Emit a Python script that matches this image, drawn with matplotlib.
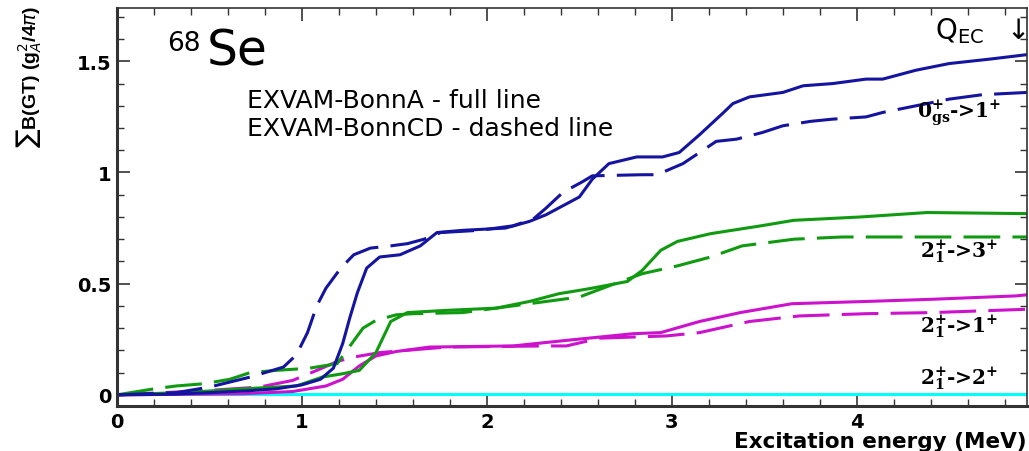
import matplotlib
matplotlib.use("Agg")
import matplotlib.pyplot as plt
from matplotlib.ticker import MultipleLocator, FixedLocator

plt.rcParams.update({
    "font.family": ["DejaVu Sans"],
    "mathtext.fontset": "dejavusans",
})

# cumulative B(GT), x in MeV
# 0gs -> 1+
x_a0 = [0, 0.3, 0.5, 0.7, 0.86, 1.0, 1.1, 1.17, 1.22, 1.26, 1.30, 1.35, 1.42, 1.53, 1.64, 1.73,
        1.87, 2.1, 2.23, 2.32, 2.41, 2.5, 2.57, 2.66, 2.81, 2.95, 3.04, 3.15, 3.28, 3.33, 3.42,
        3.6, 3.71, 3.87, 4.05, 4.14, 4.32, 4.5, 4.72, 4.92]
y_a0 = [0, 0.003, 0.01, 0.018, 0.027, 0.045, 0.07, 0.12, 0.23, 0.35, 0.46, 0.57, 0.62, 0.63, 0.67, 0.73,
        0.74, 0.75, 0.78, 0.81, 0.85, 0.89, 0.97, 1.04, 1.07, 1.07, 1.09, 1.17, 1.27, 1.31, 1.34,
        1.36, 1.39, 1.40, 1.42, 1.42, 1.46, 1.49, 1.51, 1.53]
x_cd0 = [0, 0.32, 0.5, 0.72, 0.9, 0.97, 1.03, 1.08, 1.13, 1.21, 1.28, 1.37, 1.48, 1.57, 1.66, 1.75,
         1.96, 2.14, 2.25, 2.32, 2.41, 2.52, 2.57, 2.84, 2.92, 3.06, 3.15, 3.24, 3.35, 3.49, 3.6,
         3.75, 3.87, 4.05, 4.14, 4.32, 4.5, 4.68, 4.92]
y_cd0 = [0, 0.01, 0.035, 0.08, 0.125, 0.18, 0.28, 0.40, 0.48, 0.57, 0.63, 0.66, 0.67, 0.68, 0.70, 0.73,
         0.74, 0.76, 0.79, 0.84, 0.91, 0.96, 0.985, 0.99, 0.99, 1.04, 1.09, 1.14, 1.15, 1.18, 1.21,
         1.23, 1.24, 1.25, 1.27, 1.30, 1.33, 1.35, 1.36]

# 2+1 -> 3+
x_a3 = [0, 0.4, 0.68, 0.97, 1.11, 1.22, 1.31, 1.40, 1.48, 1.57, 1.78, 2.05, 2.23, 2.39, 2.5, 2.57,
        2.76, 2.84, 2.94, 3.03, 3.21, 3.48, 3.66, 4.02, 4.38, 4.92]
y_a3 = [0, 0.012, 0.027, 0.04, 0.08, 0.095, 0.11, 0.19, 0.33, 0.37, 0.38, 0.39, 0.42, 0.455, 0.47, 0.48,
        0.51, 0.56, 0.65, 0.69, 0.725, 0.76, 0.785, 0.80, 0.82, 0.815]
x_cd3 = [0, 0.2, 0.32, 0.47, 0.61, 0.72, 0.86, 1.04, 1.19, 1.26, 1.33, 1.40, 1.51, 1.60, 1.87, 2.14,
         2.32, 2.5, 2.66, 2.84, 3.03, 3.21, 3.38, 3.66, 3.92, 4.92]
y_cd3 = [0, 0.027, 0.04, 0.05, 0.07, 0.10, 0.11, 0.12, 0.14, 0.22, 0.30, 0.335, 0.36, 0.365, 0.37, 0.40,
         0.42, 0.44, 0.49, 0.545, 0.58, 0.62, 0.67, 0.70, 0.71, 0.71]

# 2+1 -> 1+
x_a1 = [0, 0.68, 0.95, 1.13, 1.22, 1.31, 1.40, 1.51, 1.69, 2.14, 2.43, 2.79, 2.94, 3.15, 3.37, 3.65,
        4.05, 4.41, 4.86, 4.92]
y_a1 = [0, 0.005, 0.015, 0.04, 0.07, 0.13, 0.175, 0.195, 0.215, 0.22, 0.245, 0.275, 0.28, 0.33, 0.37, 0.41,
        0.42, 0.43, 0.445, 0.45]
x_cd1 = [0, 0.5, 0.77, 0.95, 1.08, 1.19, 1.28, 1.42, 1.78, 2.32, 2.43, 2.61, 2.97, 3.15, 3.42, 3.69,
         4.05, 4.41, 4.92]
y_cd1 = [0, 0.02, 0.035, 0.065, 0.11, 0.15, 0.17, 0.19, 0.215, 0.22, 0.22, 0.255, 0.265, 0.28, 0.33, 0.355,
         0.365, 0.37, 0.385]

# 2+1 -> 2+ (practically zero)
x_a2 = [0, 4.92]
y_a2 = [0.003, 0.003]

blue = "#1414a0"
green = "#109a10"
magenta = "#cc12cc"
cyan = "#00ffff"

fig = plt.figure(figsize=(10.29, 4.52), dpi=100)
ax = fig.add_axes([0.1137, 0.0996, 0.8843, 0.8806])

lw = 2.2
dash = (12, 4)
ax.plot(x_a2, y_a2, color=cyan, lw=lw)
ax.plot(x_a1, y_a1, color=magenta, lw=lw)
ax.plot(x_cd1, y_cd1, color=magenta, lw=lw, dashes=dash)
ax.plot(x_a3, y_a3, color=green, lw=lw)
ax.plot(x_cd3, y_cd3, color=green, lw=lw, dashes=dash)
ax.plot(x_a0, y_a0, color=blue, lw=lw)
ax.plot(x_cd0, y_cd0, color=blue, lw=lw, dashes=dash)

ax.set_xlim(0, 4.92)
ax.set_ylim(-0.05, 1.74)
ax.xaxis.set_major_locator(FixedLocator([0, 1, 2, 3, 4]))
ax.xaxis.set_minor_locator(MultipleLocator(0.2))
ax.yaxis.set_major_locator(FixedLocator([0, 0.5, 1, 1.5]))
ax.yaxis.set_minor_locator(MultipleLocator(0.1))
ax.set_yticklabels(["0", "0.5", "1", "1.5"])
ax.tick_params(which="both", direction="in", top=True, right=True, color="#333333")
ax.tick_params(which="major", length=9, width=1.2, labelsize=14, pad=4)
ax.tick_params(which="minor", length=5, width=1.0)
for lab in ax.get_xticklabels() + ax.get_yticklabels():
    lab.set_fontweight("bold")
for side in ["left", "bottom"]:
    ax.spines[side].set_linewidth(2.2)
    ax.spines[side].set_color("#333333")
for side in ["top", "right"]:
    ax.spines[side].set_linewidth(1.2)
    ax.spines[side].set_color("#333333")

ax.set_xlabel("Excitation energy (MeV)", fontsize=15.5, fontweight="bold", ha="right")
ax.xaxis.set_label_coords(1.0, -0.064)
fig.text(0.028, 0.83, r"$\sum$B(GT) (g$^{2}_{A}$/4$\pi$)", rotation=90, fontsize=14,
         fontweight="bold", ha="center", va="center", family="Liberation Sans")

ax.text(0.055, 0.945, "68", transform=ax.transAxes, fontsize=19, va="top", ha="left")
ax.text(0.099, 0.859, "Se", transform=ax.transAxes, fontsize=35, va="baseline", ha="left")
ax.text(0.143, 0.751, "EXVAM-BonnA - full line", transform=ax.transAxes, fontsize=18, va="baseline")
ax.text(0.143, 0.681, "EXVAM-BonnCD - dashed line", transform=ax.transAxes, fontsize=18, va="baseline")

ax.text(0.999, 0.925, r"Q$_{\mathrm{EC}}$  $\downarrow$", transform=ax.transAxes, fontsize=20,
        ha="right", va="baseline")
lab_kw = dict(transform=ax.transAxes, fontsize=14.5, fontweight="bold", family="DejaVu Serif",
              math_fontfamily="dejavuserif", va="baseline")
ax.text(0.879, 0.726, r"$\mathbf{0^{+}_{gs}}$->1$^{\mathbf{+}}$", **lab_kw)
ax.text(0.882, 0.374, r"$\mathbf{2^{+}_{1}}$->3$^{\mathbf{+}}$", **lab_kw)
ax.text(0.882, 0.186, r"$\mathbf{2^{+}_{1}}$->1$^{\mathbf{+}}$", **lab_kw)
ax.text(0.882, 0.055, r"$\mathbf{2^{+}_{1}}$->2$^{\mathbf{+}}$", **lab_kw)

fig.savefig("out.png", dpi=100)
